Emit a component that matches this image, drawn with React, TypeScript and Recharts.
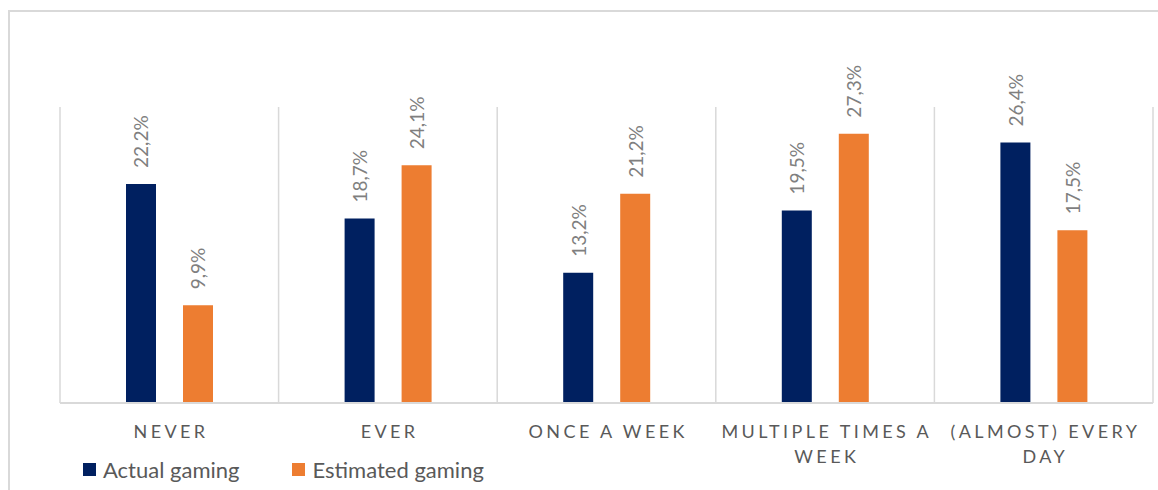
import {
  Bar,
  BarChart,
  CartesianGrid,
  LabelList,
  XAxis,
  YAxis,
} from "recharts"

const categories = [
  "Never",
  "Ever",
  "Once a week",
  "Multiple times a week",
  "(Almost) every day",
]
const actualGaming = [22.2, 18.7, 13.2, 19.5, 26.4]
const estimatedGaming = [9.9, 24.1, 21.2, 27.3, 17.5]
const legendItems = ["Actual gaming", "Estimated gaming"]

const NAVY = "#002060"
const ORANGE = "#ED7D31"
const FONT = "Lato, 'Liberation Sans', sans-serif"

const data = categories.map((name, i) => ({
  name,
  actual: actualGaming[i],
  estimated: estimatedGaming[i],
}))

const wrapLabel = (label: string, maxChars = 16) => {
  const words = label.toUpperCase().split(" ")
  const lines: string[] = []
  let line = ""
  for (const w of words) {
    const next = line ? `${line} ${w}` : w
    if (next.length > maxChars && line) {
      lines.push(line)
      line = w
    } else {
      line = next
    }
  }
  if (line) lines.push(line)
  return lines
}

// gridlines sit on the category boundaries, not the centres
const boundaryLines = ({ offset }: any) =>
  Array.from(
    { length: categories.length + 1 },
    (_, i) => offset.left + (i * offset.width) / categories.length
  )

const CategoryTick = (props: any) => {
  const { x, y, payload } = props
  const lines = wrapLabel(String(payload.value))
  return (
    <g>
      {lines.map((l, i) => (
        <text
          key={i}
          x={x + 1.7}
          y={y + 27 + i * 25}
          textAnchor="middle"
          fill="#595959"
          fontFamily={FONT}
          fontSize={18}
          letterSpacing={3.4}
        >
          {l}
        </text>
      ))}
    </g>
  )
}

const ValueLabel = (props: any) => {
  const { x, y, width, value } = props
  const cx = x + width / 2
  const ty = y - 16
  return (
    <text
      x={cx}
      y={ty}
      transform={`rotate(-90, ${cx}, ${ty})`}
      textAnchor="start"
      dominantBaseline="central"
      fill="#7f7f7f"
      fontFamily={FONT}
      fontSize={19}
    >
      {`${Number(value).toFixed(1).replace(".", ",")}%`}
    </text>
  )
}

const App = () => {
  const colors = [NAVY, ORANGE]
  return (
    <div
      style={{
        position: "fixed",
        left: 0,
        top: 0,
        width: 1158,
        height: 490,
        overflow: "hidden",
        background: "#fff",
      }}
    >
      <div
        style={{
          position: "absolute",
          left: 8,
          top: 10,
          width: 1200,
          height: 600,
          border: "2px solid #d9d9d9",
        }}
      />
      <BarChart
        width={1158}
        height={490}
        data={data}
        margin={{ top: 107, right: 5, bottom: 57, left: 60 }}
        barSize={30}
        barGap={27}
        style={{ position: "absolute", left: 0, top: 0 }}
      >
        <CartesianGrid
          horizontal={false}
          verticalCoordinatesGenerator={boundaryLines}
          stroke="#d9d9d9"
          strokeWidth={1.5}
        />
        <XAxis
          dataKey="name"
          axisLine={{ stroke: "#d9d9d9", strokeWidth: 2 }}
          tickLine={false}
          tick={<CategoryTick />}
          interval={0}
        />
        <YAxis hide domain={[0, 30]} />
        <Bar dataKey="actual" name="Actual gaming" fill={NAVY} isAnimationActive={false}>
          <LabelList dataKey="actual" content={<ValueLabel />} />
        </Bar>
        <Bar
          dataKey="estimated"
          name="Estimated gaming"
          fill={ORANGE}
          isAnimationActive={false}
        >
          <LabelList dataKey="estimated" content={<ValueLabel />} />
        </Bar>
      </BarChart>
      <div
        style={{
          position: "absolute",
          left: 83,
          top: 456,
          display: "flex",
          fontFamily: FONT,
          fontSize: 22,
          color: "#595959",
        }}
      >
        {legendItems.map((label, i) => (
          <div
            key={label}
            style={{ display: "flex", alignItems: "center", marginRight: 53 }}
          >
            <span
              style={{
                width: 13,
                height: 13,
                background: colors[i],
                display: "inline-block",
                marginRight: 7,
              }}
            />
            <span>{label}</span>
          </div>
        ))}
      </div>
    </div>
  )
}

export default App
